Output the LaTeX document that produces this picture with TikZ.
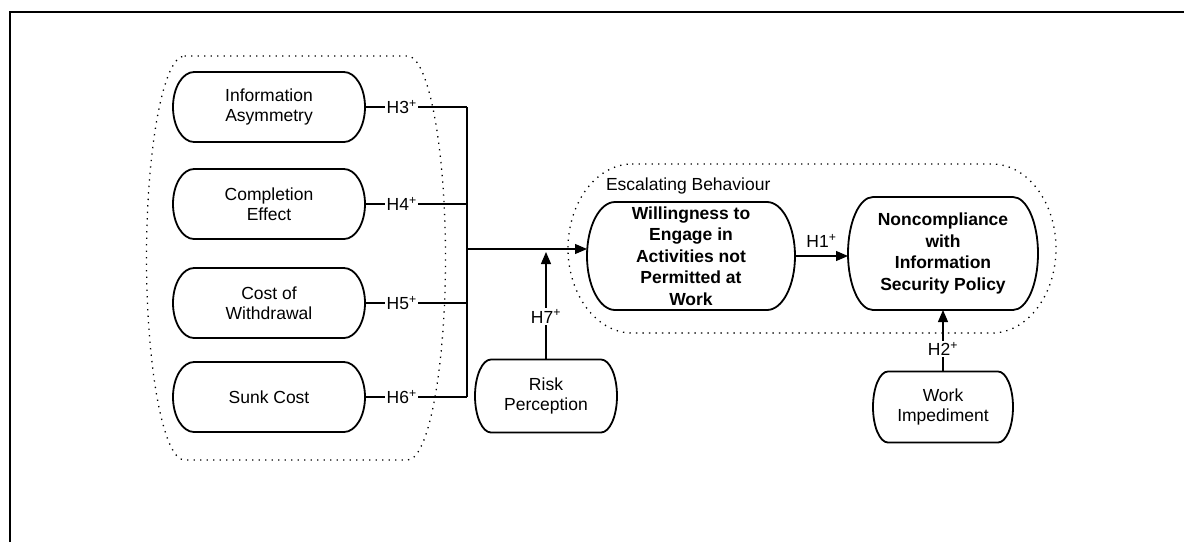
\documentclass[tikz,border=0pt]{standalone}
\usepackage{fontspec}
\setmainfont{Liberation Sans}
\usetikzlibrary{calc,arrows.meta}

% outline with straight top/bottom and elliptic ends, drawn round a node
\newcommand{\pillshape}[3][]{%
  \draw[#1] ($(#2.north west)+(#3,0)$) -- ($(#2.north east)+(-#3,0)$)
    .. controls ($(#2.north east)+(-0.45*#3,0)$) and ($(#2.east)!0.55!(#2.north east)$) .. (#2.east)
    .. controls ($(#2.east)!0.55!(#2.south east)$) and ($(#2.south east)+(-0.45*#3,0)$) .. ($(#2.south east)+(-#3,0)$)
    -- ($(#2.south west)+(#3,0)$)
    .. controls ($(#2.south west)+(0.45*#3,0)$) and ($(#2.west)!0.55!(#2.south west)$) .. (#2.west)
    .. controls ($(#2.west)!0.55!(#2.north west)$) and ($(#2.north west)+(0.45*#3,0)$) .. ($(#2.north west)+(#3,0)$)
    -- cycle;}

\begin{document}
\begin{tikzpicture}[x=1pt,y=-1pt,
		box/.style={outer sep=0pt, inner sep=0pt, align=center,
			font=\fontsize{17.5}{20}\selectfont},
		keybox/.style={box, font=\fontsize{17.5}{21.5}\selectfont\bfseries},
		outline/.style={line width=1.8pt},
		group/.style={line width=1.3pt, dash pattern=on 1.3pt off 5.2pt},
		link/.style={line width=1.2pt},
		arr/.style={link, -{Triangle[length=12pt,width=10pt]}},
		hyp/.style={fill=white, inner sep=1.5pt, font=\fontsize{17.5}{20}\selectfont}]
		
		\useasboundingbox (0,0) rectangle (1184,542);
		\draw[line width=2pt] (10,542) -- (10,12) -- (1184,12);
		
		% the two dotted groups
		\node[box, minimum width=299, minimum height=404] (biases) at (296,258) {};
		\node[box, minimum width=488, minimum height=169] (escal) at (812,248.5) {};
		\pillshape[group]{biases}{38}
		\pillshape[group]{escal}{64}
		\node[box, anchor=west] (esclabel) at (606,186) {Escalating Behaviour};
		
		% factors on the left
		\node[box, minimum width=192, minimum height=70] (infoasym) at (269,107) {Information\\Asymmetry};
		\node[box, minimum width=192, minimum height=70] (complete) at (269,204) {Completion\\Effect};
		\node[box, minimum width=192, minimum height=70] (withdraw) at (269,303) {Cost of\\Withdrawal};
		\node[box, minimum width=192, minimum height=70] (sunk) at (269,397) {Sunk Cost};
		\foreach \n in {infoasym,complete,withdraw,sunk}
		\pillshape[outline]{\n}{21};
		
		\node[keybox, minimum width=208, minimum height=108] (willing) at (691,256)
		{Willingness to\\Engage in\\Activities not\\Permitted at\\Work};
		\node[keybox, minimum width=190, minimum height=113] (noncomp) at (943,253.5)
		{Noncompliance\\with\\Information\\Security Policy};
		\node[box, minimum width=142, minimum height=73] (risk) at (546,396) {Risk\\Perception};
		\node[box, minimum width=140, minimum height=71] (impede) at (943,407) {Work\\Impediment};
		\pillshape[outline]{willing}{28}
		\pillshape[outline]{noncomp}{25}
		\pillshape[outline]{risk}{16}
		\pillshape[outline]{impede}{15}
		
		% hypotheses
		\coordinate (join) at (467,249);
		\draw[link] (infoasym.east) -- node[hyp, pos=.36] {H3\textsuperscript{+}} (infoasym.east -| join);
		\draw[link] (complete.east) -- node[hyp, pos=.36] {H4\textsuperscript{+}} (complete.east -| join);
		\draw[link] (withdraw.east) -- node[hyp, pos=.36] {H5\textsuperscript{+}} (withdraw.east -| join);
		\draw[link] (sunk.east) -- node[hyp, pos=.36] {H6\textsuperscript{+}} (sunk.east -| join);
		\draw[link] (infoasym.east -| join) -- (sunk.east -| join);
		\draw[arr] (join) -- (join -| willing.west);
		\draw[arr, shorten >=3pt] (risk) -- node[hyp, pos=.39] {H7\textsuperscript{+}} (risk |- join);
		\draw[arr] (willing.east) -- node[hyp, above=6pt, fill=none] {H1\textsuperscript{+}} (willing.east -| noncomp.west);
		\draw[arr] (impede) -- node[hyp, pos=.37] {H2\textsuperscript{+}} (noncomp);
		
	\end{tikzpicture}
\end{document}
